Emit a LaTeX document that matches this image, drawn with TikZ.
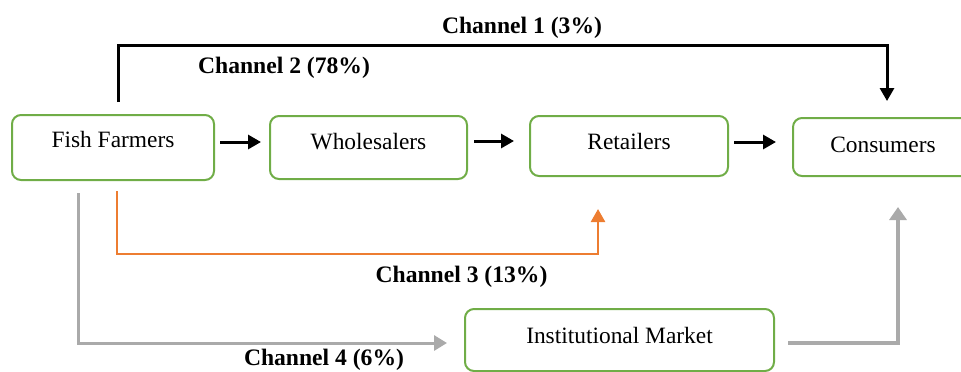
\documentclass[tikz,border=0pt]{standalone}
\usepackage{fontspec}
\setmainfont{Liberation Serif}
\usetikzlibrary{arrows.meta,calc}
\definecolor{boxgreen}{RGB}{112,173,71}
\definecolor{chorange}{RGB}{237,125,49}
\definecolor{chgray}{RGB}{170,170,170}
\begin{document}
\begin{tikzpicture}[x=0.5pt,y=-0.5pt,
  box/.style={draw=boxgreen, line width=1pt, rounded corners=4.5pt, inner sep=0pt,
    font=\fontsize{11.7}{14}\selectfont, anchor=north},
  lbl/.style={font=\bfseries\fontsize{11.8}{14}\selectfont, anchor=base, inner sep=0pt},
  flow/.style={line width=1.5pt, -{Triangle[length=6.5pt,width=7pt]}},
]
\clip (0,0) rectangle (961,371);
% boxes
\node[box, minimum width=101pt, text height=16pt, text depth=16.5pt] (ff) at (113,114) {Fish Farmers};
\node[box, minimum width=98.5pt, text height=16.5pt, text depth=15pt] (w) at (368.5,115) {Wholesalers};
\node[box, minimum width=99pt, text height=16.5pt, text depth=13.5pt] (r) at (629,115) {Retailers};
\node[box, minimum width=90pt, text height=17pt, text depth=12pt] (c) at (883,117) {Consumers};
\node[box, minimum width=154.5pt, text height=17pt, text depth=14pt] (im) at (619.5,308) {Institutional Market};
% main chain
\draw[flow] ($(ff.east)+(5,-5.5)$) -- ($(w.west)+(-8,-5.5)$);
\draw[flow] ($(w.east)+(6,-6.5)$) -- ($(r.west)+(-15,-5)$);
\draw[flow] ($(r.east)+(5,-4)$) -- ($(c.west)+(-16,-5)$);
% channel 1
\draw[flow] ($(ff.north)+(5,-12)$) |- ($(c.north)+(4,-72)$) -- ($(c.north)+(4,-16)$);
% channel 3
\draw[flow, draw=chorange, line width=1.25pt] ($(ff.south)+(4,10)$) |- ($(r.south)+(-31,77)$) -- ($(r.south)+(-31,32)$);
% channel 4
\draw[flow, draw=chgray, -{Triangle[length=6.5pt,width=7.5pt]}] ($(ff.south)+(-35,12)$) |- ($(im.west)+(-17,3)$);
\draw[draw=chgray, line width=2.25pt, -{Triangle[length=6.5pt,width=8.5pt]}] ($(im.east)+(13,3)$) -| ($(c.south)+(15,30)$);
% labels
\node[lbl] (l1) at (522,33) {Channel 1 (3\%)};
\node[lbl] (l2) at (284,73) {Channel 2 (78\%)};
\node[lbl] (l3) at (461.5,282) {Channel 3 (13\%)};
\node[lbl] (l4) at (324,365) {Channel 4 (6\%)};
\end{tikzpicture}
\end{document}
